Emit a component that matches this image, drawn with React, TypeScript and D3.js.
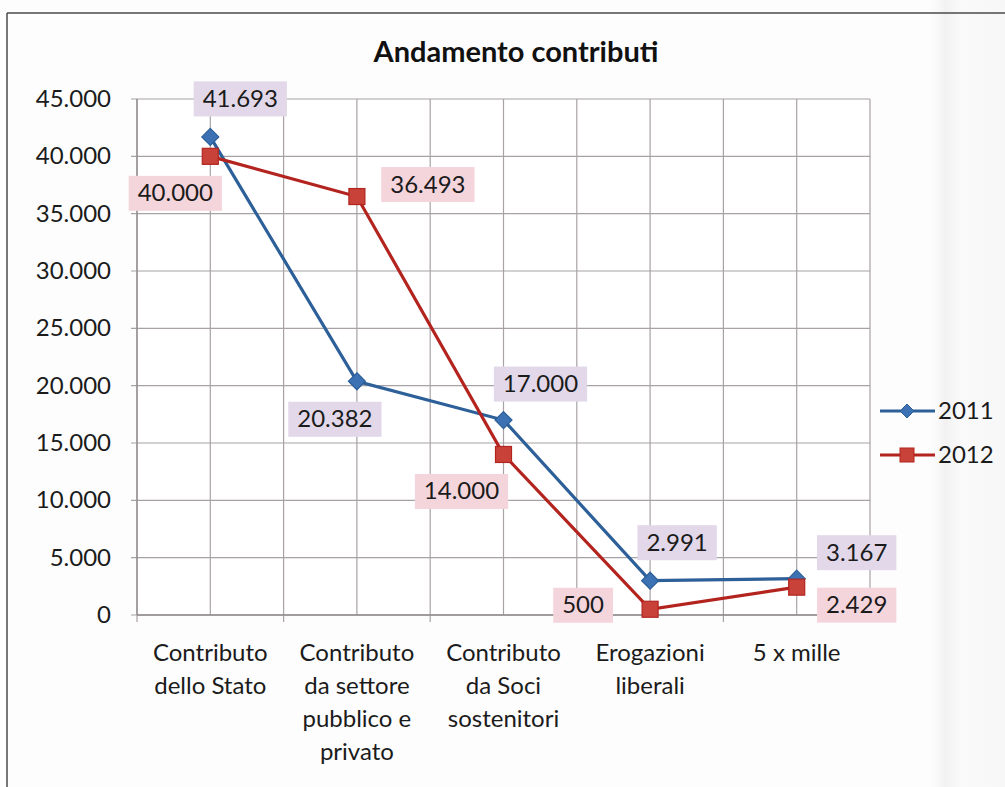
import React from "react";
import * as d3 from "d3";

const categories = [
  "Contributo dello Stato",
  "Contributo da settore pubblico e privato",
  "Contributo da Soci sostenitori",
  "Erogazioni liberali",
  "5 x mille",
];
const categoryLines = [
  ["Contributo", "dello Stato"],
  ["Contributo", "da settore", "pubblico e", "privato"],
  ["Contributo", "da Soci", "sostenitori"],
  ["Erogazioni", "liberali"],
  ["5 x mille"],
];
const series2011 = [41693, 20382, 17000, 2991, 3167];
const series2012 = [40000, 36493, 14000, 500, 2429];
const yTicks = [0, 5000, 10000, 15000, 20000, 25000, 30000, 35000, 40000, 45000];
const seriesNames = ["2011", "2012"];

// label placement (style, not data): offset of label centre from its point
const labelOffsets2011 = [[30, -38], [-22, 38], [37, -36], [27, -38], [60, -26]];
const labelOffsets2012 = [[-35, 37], [71, -12], [-42, 37], [-67, -4], [60, 18]];

const W = 1005;
const H = 787;
const FONT = "Lato, 'Open Sans', sans-serif";
const FS = 24;

const itLocale = d3.formatLocale({ decimal: ",", thousands: ".", grouping: [3], currency: ["€", ""] });
const fmt = itLocale.format(",d");

let ctx: CanvasRenderingContext2D | null = null;
function textWidth(t: string, font: string) {
  if (!ctx) ctx = document.createElement("canvas").getContext("2d");
  if (!ctx) return t.length * 12;
  ctx.font = font;
  return ctx.measureText(t).width;
}

const BLUE = "#2d5f98";
const BLUE_FILL = "#3c72b4";
const RED = "#b3241f";
const RED_FILL = "#c8423a";
const GRID = "#a8a2a6";

export default function App() {
  const x = d3.scaleBand<string>().domain(categories).range([137, 870]).paddingInner(0).paddingOuter(0);
  const y = d3.scaleLinear().domain([0, 45000]).range([615, 99]);
  const bw = x.bandwidth();
  const cx = (i: number) => (x(categories[i]) as number) + bw / 2;

  const boundaries = categories.map((c) => x(c) as number).concat([870]);
  const centers = categories.map((_, i) => cx(i));

  const line = d3
    .line<number>()
    .x((_, i) => cx(i))
    .y((d) => y(d));

  const diamond = (px: number, py: number, r: number) =>
    `M${px},${py - r}L${px + r},${py}L${px},${py + r}L${px - r},${py}Z`;

  const labelBox = (v: number, px: number, py: number, off: number[], fill: string, key: string) => {
    const t = fmt(v);
    const tw = textWidth(t, `${FS}px ${FONT}`);
    const bwid = tw + 18;
    const bh = 35;
    const lx = px + off[0];
    const ly = py + off[1];
    return (
      <g key={key}>
        <rect x={lx - bwid / 2} y={ly - bh / 2} width={bwid} height={bh} fill={fill} />
        <text x={lx} y={ly + 8} textAnchor="middle" fontFamily={FONT} fontSize={FS} fill="#1b1b1b">
          {t}
        </text>
      </g>
    );
  };

  return (
    <svg
      width={W}
      height={H}
      style={{ position: "absolute", left: 0, top: 0, background: "#fdfdfd" }}
      xmlns="http://www.w3.org/2000/svg"
    >
      <defs>
        <linearGradient id="scanRight" x1="0" x2="1" y1="0" y2="0">
          <stop offset="0" stopColor="#ffffff" stopOpacity={0} />
          <stop offset="0.25" stopColor="#eeeced" stopOpacity={0.7} />
          <stop offset="0.45" stopColor="#f7f6f7" stopOpacity={0.5} />
          <stop offset="1" stopColor="#f3f2f3" stopOpacity={0.5} />
        </linearGradient>
      </defs>
      <rect x={0} y={0} width={W} height={H} fill="#fdfdfd" />
      <rect x={925} y={0} width={80} height={H} fill="url(#scanRight)" />
      {/* frame */}
      <line x1={7} y1={13} x2={W} y2={13} stroke="#4a4a4a" strokeWidth={1.5} />
      <line x1={7} y1={13} x2={7} y2={H} stroke="#4a4a4a" strokeWidth={1.5} />

      {/* title */}
      <text x={516} y={62} textAnchor="middle" fontFamily={FONT} fontWeight="bold" fontSize={29} fill="#111">
        Andamento contributi
      </text>

      {/* plot background */}
      <rect x={137} y={99} width={733} height={516} fill="#ffffff" />

      {/* horizontal gridlines */}
      {yTicks.map((t) => (
        <line key={"h" + t} x1={131} x2={870} y1={y(t)} y2={y(t)} stroke={GRID} strokeWidth={1.2} />
      ))}
      {/* vertical gridlines at boundaries and centres */}
      {boundaries.map((b, i) => (
        <line key={"vb" + i} x1={b} x2={b} y1={99} y2={622} stroke={GRID} strokeWidth={1.2} />
      ))}
      {centers.map((c, i) => (
        <line key={"vc" + i} x1={c} x2={c} y1={99} y2={615} stroke={GRID} strokeWidth={1.2} />
      ))}
      {/* axes */}
      <line x1={137} x2={137} y1={99} y2={615} stroke="#8f8a8d" strokeWidth={1.3} />
      <line x1={137} x2={870} y1={615} y2={615} stroke="#8f8a8d" strokeWidth={1.3} />

      {/* y labels */}
      {yTicks.map((t) => (
        <text key={"yl" + t} x={111} y={y(t) + 8} textAnchor="end" fontFamily={FONT} fontSize={FS} fill="#1b1b1b">
          {fmt(t)}
        </text>
      ))}

      {/* x labels */}
      {categoryLines.map((lines, i) => (
        <text key={"xl" + i} textAnchor="middle" fontFamily={FONT} fontSize={FS} fill="#1b1b1b">
          {lines.map((l, j) => (
            <tspan key={j} x={cx(i)} y={661 + j * 33}>
              {l}
            </tspan>
          ))}
        </text>
      ))}

      {/* series lines */}
      <path d={line(series2011) || ""} fill="none" stroke={BLUE} strokeWidth={3.2} />
      <path d={line(series2012) || ""} fill="none" stroke={RED} strokeWidth={3.2} />

      {/* markers */}
      {series2011.map((v, i) => (
        <path key={"m1" + i} d={diamond(cx(i), y(v), 8.5)} fill={BLUE_FILL} stroke={BLUE} strokeWidth={1.2} />
      ))}
      {series2012.map((v, i) => (
        <rect
          key={"m2" + i}
          x={cx(i) - 8}
          y={y(v) - 8}
          width={16}
          height={16}
          fill={RED_FILL}
          stroke={RED}
          strokeWidth={1.2}
        />
      ))}

      {/* data labels */}
      {series2011.map((v, i) => labelBox(v, cx(i), y(v), labelOffsets2011[i], "#e2d8e9", "l1" + i))}
      {series2012.map((v, i) => labelBox(v, cx(i), y(v), labelOffsets2012[i], "#f5d5dc", "l2" + i))}

      {/* legend */}
      {seriesNames.map((n, i) => {
        const ly = 411 + i * 44;
        return (
          <g key={"lg" + n}>
            <line x1={880} x2={935} y1={ly} y2={ly} stroke={i === 0 ? BLUE : RED} strokeWidth={3} />
            {i === 0 ? (
              <path d={diamond(907, ly, 7)} fill={BLUE_FILL} stroke={BLUE} strokeWidth={1} />
            ) : (
              <rect x={900} y={ly - 7} width={14} height={14} fill={RED_FILL} stroke={RED} strokeWidth={1} />
            )}
            <text x={938} y={ly + 8} fontFamily={FONT} fontSize={FS} fill="#1b1b1b">
              {n}
            </text>
          </g>
        );
      })}
    </svg>
  );
}
